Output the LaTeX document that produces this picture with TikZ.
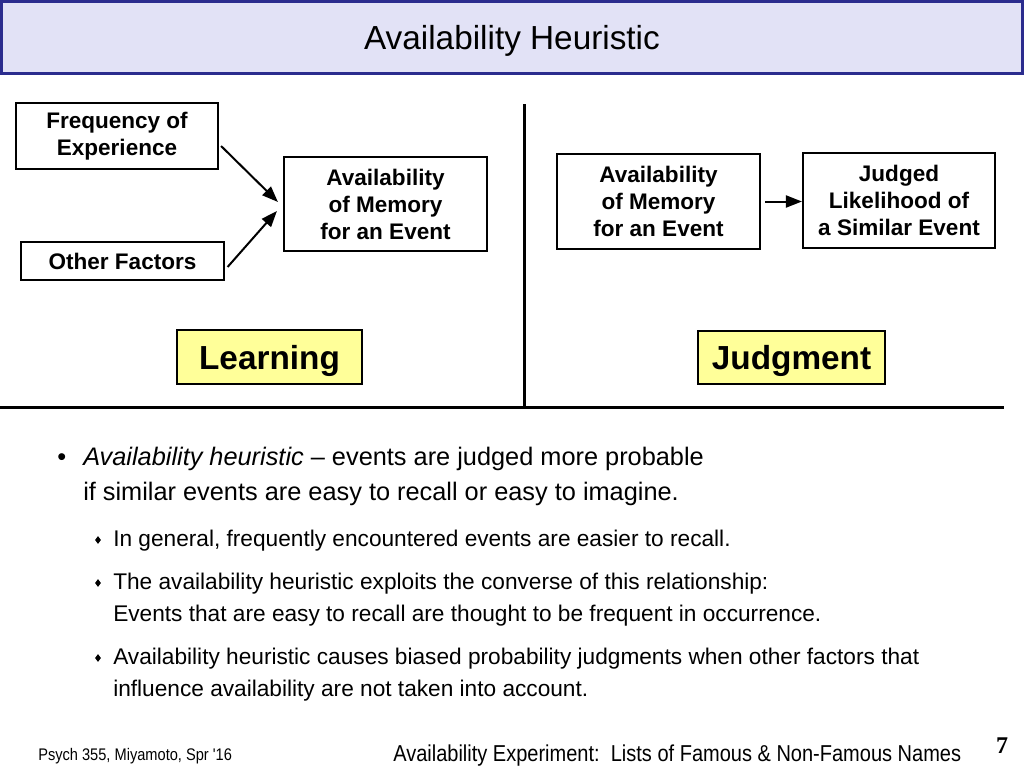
\documentclass[tikz,border=0pt]{standalone}
\usepackage{fontspec}
\setmainfont{Liberation Sans}
\newfontfamily\narrowfont[FakeStretch=0.87]{Liberation Sans}
\newfontfamily\pagefont{Liberation Serif}
\usetikzlibrary{arrows.meta,positioning,shapes.geometric,calc}
\definecolor{titleblue}{HTML}{2B2C8E}
\definecolor{titlefill}{HTML}{E2E2F6}
\definecolor{labelyellow}{HTML}{FFFF99}

\tikzset{
  factorbox/.style={draw, line width=1.6pt, align=center, inner sep=0pt,
    font=\bfseries\fontsize{16.9pt}{20.25pt}\selectfont},
  stagebox/.style={draw, fill=labelyellow, line width=1.2pt, inner sep=0pt, text depth=0pt,
    font=\bfseries\fontsize{25pt}{30pt}\selectfont},
  arr/.style={-{Triangle[length=12pt,width=9pt]}, line width=1.5pt},
  bulletline/.style={anchor=base west, inner sep=0pt, font=\fontsize{19pt}{24pt}\selectfont},
  subline/.style={anchor=base west, inner sep=0pt, font=\fontsize{17pt}{22pt}\selectfont},
  subdot/.style={diamond, fill, inner sep=0pt, minimum width=4.5pt, minimum height=6pt},
}

\begin{document}
\begin{tikzpicture}[x=0.75pt, y=-0.75pt]
\useasboundingbox (0,0) rectangle (1024,768);

% Title bar
\draw[titleblue, fill=titlefill, line width=2.25pt] (1.5,1.5) rectangle (1022.5,73.5);
\node[anchor=base, inner sep=0pt, font=\fontsize{25pt}{30pt}\selectfont] (title) at (512,49) {Availability Heuristic};

% Learning side
\node[factorbox, minimum width=151.5pt, minimum height=49.5pt] (freq) at (117,136) {Frequency of\\Experience};
\node[factorbox, minimum width=152.25pt, minimum height=28.5pt] (other) at (122.5,261) {Other Factors};
\node[factorbox, minimum width=152.25pt, minimum height=70.5pt] (availL) at (385.5,204) {Availability\\of Memory\\for an Event};
\node[stagebox, minimum width=138.75pt, minimum height=40.5pt] (learn) at (269.5,357) {Learning};

\draw[arr] ($(freq.east)+(2,10)$) -- ($(availL.west)+(-5,-2)$);
\draw[arr] ($(other.east)+(2.5,6)$) -- ($(availL.west)+(-6,7)$);

% Judgment side
\node[factorbox, minimum width=152.25pt, minimum height=71.25pt] (availR) at (658.5,201.5) {Availability\\of Memory\\for an Event};
\node[factorbox, minimum width=144pt, minimum height=71.25pt] (judged) at (899,200.5) {Judged\\Likelihood of\\a Similar Event};
\node[stagebox, minimum width=140.25pt, minimum height=39.75pt] (judg) at (791.5,357.5) {Judgment};

\draw[arr, shorten <=3pt] (availR.east) -- (availR.east -| judged.west);

% Dividers
\draw[line width=2.25pt] (524,104) -- (524,407);
\draw[line width=2.25pt] (0,407) -- (1004,407);

% Bullet text
\node[bulletline] (dot1) at (57,465) {•};
\node[bulletline] (b1) at (83,465) {\textit{Availability heuristic} – events are judged more probable};
\node[bulletline] (b1b) at (83,500) {if similar events are easy to recall or easy to imagine.};

\node[subdot] (d1) at (98,540) {};
\node[subline] (s1) at (113,546) {In general, frequently encountered events are easier to recall.};
\node[subdot] (d2) at (98,583) {};
\node[subline] (s2) at (113,589) {The availability heuristic exploits the converse of this relationship:};
\node[subline] (s2b) at (113,621) {Events that are easy to recall are thought to be frequent in occurrence.};
\node[subdot] (d3) at (98,658) {};
\node[subline] (s3) at (113,664) {Availability heuristic causes biased probability judgments when other factors that};
\node[subline] (s3b) at (113,696) {influence availability are not taken into account.};

% Footer
\node[anchor=base west, inner sep=0pt, font=\narrowfont\fontsize{12.6pt}{15pt}\selectfont] (course) at (38,760) {Psych 355, Miyamoto, Spr '16};
\node[anchor=base west, inner sep=0pt, font=\narrowfont\fontsize{17.25pt}{20pt}\selectfont] (footer) at (393,761) {Availability Experiment:\ \ Lists of Famous \& Non-Famous Names};
\node[anchor=base, inner sep=0pt, font=\pagefont\bfseries\fontsize{18pt}{20pt}\selectfont] (page) at (1002,753) {7};
\end{tikzpicture}
\end{document}
